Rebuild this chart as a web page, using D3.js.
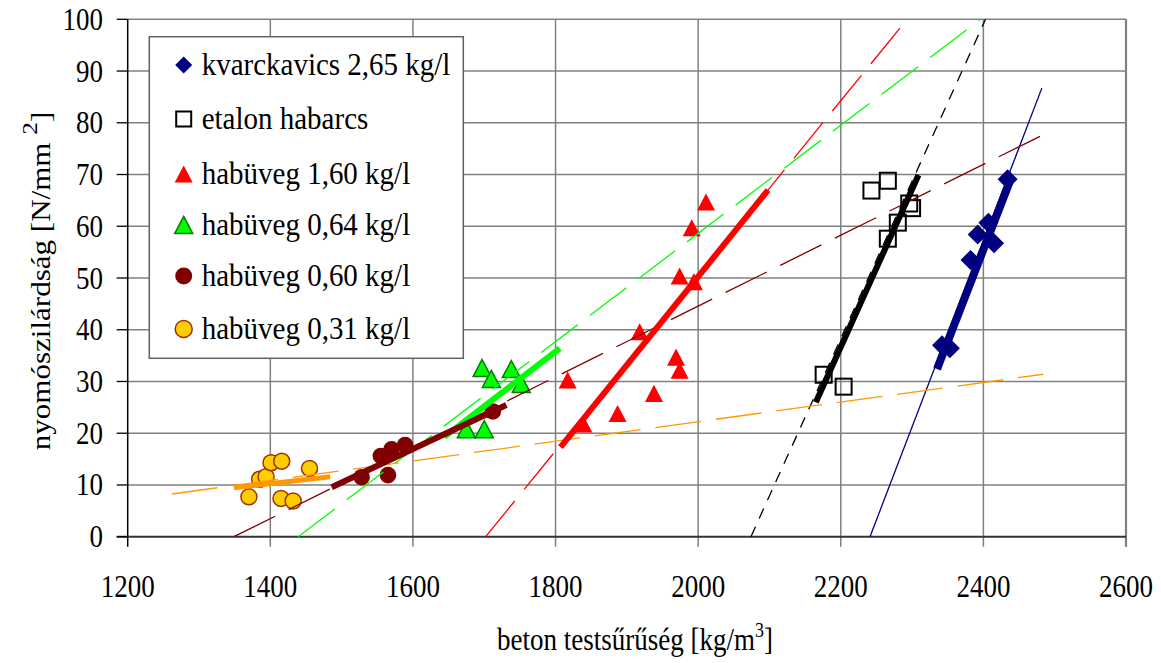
<!DOCTYPE html>
<meta charset="utf-8">
<head>
    <title>nyomószilárdság - beton testsűrűség</title>
    <script type="text/javascript" src="https://d3js.org/d3.v7.min.js"></script>
    <style>
        body { margin: 0; background: #fff; }
        text { font-family: "Liberation Serif", "Times New Roman", serif; fill: #000; }
    </style>
</head>
<body>
    <svg id="chart"></svg>
    <script>
        // axis ticks
        var xTicks = [1200, 1400, 1600, 1800, 2000, 2200, 2400, 2600];
        var yTicks = [0, 10, 20, 30, 40, 50, 60, 70, 80, 90, 100];

        // series names (legend order)
        var seriesNames = ["kvarckavics 2,65 kg/l", "etalon habarcs", "habüveg 1,60 kg/l",
            "habüveg 0,64 kg/l", "habüveg 0,60 kg/l", "habüveg 0,31 kg/l"];

        // measured points
        var kvarcX = [2434, 2407, 2392, 2415, 2382, 2342, 2353];
        var kvarcY = [69.1, 60.7, 58.4, 56.7, 53.5, 37.0, 36.4];
        var etalonX = [2176, 2204, 2243, 2266, 2266, 2280, 2296, 2300];
        var etalonY = [31.3, 29.0, 66.9, 68.8, 57.6, 60.7, 64.4, 63.5];
        var hab160X = [2011, 1991, 1974, 1994, 1918, 1969, 1974, 1817, 1938, 1887, 1839];
        var hab160Y = [64.7, 59.7, 50.4, 49.3, 39.6, 34.7, 32.2, 30.3, 27.7, 23.8, 21.8];
        var hab064X = [1697, 1710, 1738, 1752, 1675, 1700];
        var hab064Y = [32.6, 30.5, 32.4, 29.5, 20.8, 20.8];
        var hab060X = [1528, 1565, 1555, 1570, 1589, 1712];
        var hab060Y = [11.5, 11.9, 15.6, 16.9, 17.7, 24.2];
        var hab031X = [1370, 1385, 1394, 1401, 1416, 1415, 1432, 1455];
        var hab031Y = [7.7, 11.1, 11.6, 14.3, 14.6, 7.4, 6.9, 13.2];

        // trendlines over the data range [x1, y1, x2, y2]
        var trendKvarc = [2335, 32.4, 2440, 69.7];
        var trendEtalon = [2165, 26.0, 2309, 69.9];
        var trend160 = [1807, 17.3, 2098, 67.0];
        var trend064 = [1644, 19.3, 1806, 36.4];
        var trend060 = [1486, 9.55, 1731, 25.45];
        var trend031 = [1349, 9.47, 1484, 11.6];

        // extended trendlines [x1, y1, x2, y2]
        var extKvarc = [2241, 0, 2482, 86.7];
        var extEtalon = [2074, 0, 2403, 100];
        var ext160 = [1702, 0, 2293, 100];
        var ext064 = [1439, 0, 2396, 100];
        var ext060 = [1349, 0, 2481, 77.5];
        var ext031 = [1262, 8.25, 2484, 31.4];

        var w = 1161, h = 663;
        var svg = d3.select("#chart").attr("width", w).attr("height", h);

        var x = d3.scaleLinear().domain([1200, 2600]).range([127.7, 1126]);
        var y = d3.scaleLinear().domain([0, 100]).range([536.7, 19.3]);

        // styles per series
        var styles = [
            { shape: "diamond", fill: "#000080", stroke: "none", line: "#000080", thick: 8, dash: null },
            { shape: "square", fill: "none", stroke: "#000", line: "#000", thick: 6, dash: "11,9" },
            { shape: "triangle", fill: "#ff0000", stroke: "none", line: "#ff0000", thick: 6, dash: "46,15" },
            { shape: "triangle", fill: "#00ff00", stroke: "#008000", line: "#00ff00", thick: 6, dash: "46,15" },
            { shape: "circle", fill: "#800000", stroke: "none", line: "#800000", thick: 6, dash: "46,15" },
            { shape: "circle", fill: "#ffcc00", stroke: "#993300", line: "#ff9900", thick: 5, dash: "46,15" }
        ];
        var pointsX = [kvarcX, etalonX, hab160X, hab064X, hab060X, hab031X];
        var pointsY = [kvarcY, etalonY, hab160Y, hab064Y, hab060Y, hab031Y];
        var trends = [trendKvarc, trendEtalon, trend160, trend064, trend060, trend031];
        var exts = [extKvarc, extEtalon, ext160, ext064, ext060, ext031];

        function text(g, px, py, str, size, anchor, sy) {
            return g.append("text")
                .attr("transform", "translate(" + px + "," + py + ") scale(1," + sy + ")")
                .attr("text-anchor", anchor)
                .style("font-size", size + "px")
                .text(str);
        }

        function marker(g, shape, cx, cy, s, st) {
            var m;
            if (shape === "diamond") {
                m = g.append("path").attr("d", "M0," + (-s) + "L" + s + ",0L0," + s + "L" + (-s) + ",0Z");
            } else if (shape === "square") {
                m = g.append("rect").attr("x", -s).attr("y", -s).attr("width", 2 * s).attr("height", 2 * s)
                    .attr("stroke-width", 2);
            } else if (shape === "triangle") {
                m = g.append("path").attr("d", "M0," + (-s * 0.95) + "L" + s + "," + (s * 0.95) + "L" + (-s) + "," + (s * 0.95) + "Z")
                    .attr("stroke-width", 1.5);
            } else {
                m = g.append("circle").attr("r", s).attr("stroke-width", 1.5);
            }
            m.attr("transform", "translate(" + cx + "," + cy + ")")
                .attr("fill", st.fill)
                .attr("stroke", st.stroke);
            return m;
        }

        // grid
        var grid = svg.append("g").attr("id", "grid");
        grid.selectAll("line.h").data(yTicks.slice(1)).enter().append("line")
            .attr("x1", x(1200)).attr("x2", x(2600))
            .attr("y1", function (d) { return y(d); }).attr("y2", function (d) { return y(d); })
            .attr("stroke", "#808080").attr("stroke-width", 1.5);
        grid.selectAll("line.v").data(xTicks.slice(1)).enter().append("line")
            .attr("x1", function (d) { return x(d); }).attr("x2", function (d) { return x(d); })
            .attr("y1", y(100)).attr("y2", y(0) + 10)
            .attr("stroke", "#808080").attr("stroke-width", 1.5);
        // right border slightly heavier
        grid.append("line").attr("x1", x(2600)).attr("x2", x(2600)).attr("y1", y(100)).attr("y2", y(0) + 10)
            .attr("stroke", "#808080").attr("stroke-width", 2.2);

        // axes
        var axes = svg.append("g").attr("id", "axes");
        axes.append("line").attr("x1", x(1200)).attr("x2", x(1200)).attr("y1", y(100)).attr("y2", y(0) + 10)
            .attr("stroke", "#000").attr("stroke-width", 1.5);
        axes.append("line").attr("x1", x(1200) - 11).attr("x2", x(2600)).attr("y1", y(0)).attr("y2", y(0))
            .attr("stroke", "#333").attr("stroke-width", 2);
        axes.selectAll("line.yt").data(yTicks).enter().append("line")
            .attr("x1", x(1200) - 11).attr("x2", x(1200))
            .attr("y1", function (d) { return y(d); }).attr("y2", function (d) { return y(d); })
            .attr("stroke", "#000").attr("stroke-width", 1.3);

        yTicks.forEach(function (d) {
            text(axes, 103, y(d) + 10.5, String(d), 27, "end", 1.18);
        });
        xTicks.forEach(function (d) {
            text(axes, x(d), 597, String(d), 27, "middle", 1.18);
        });

        // axis titles
        var xt = axes.append("text")
            .attr("transform", "translate(635,650) scale(1,1.15)")
            .attr("text-anchor", "middle")
            .style("font-size", "27px");
        xt.append("tspan").text("beton testsűrűség [kg/m");
        xt.append("tspan").attr("dy", -11).style("font-size", "18px").text("3");
        xt.append("tspan").attr("dy", 11).text("]");

        var yt = axes.append("text")
            .attr("transform", "translate(50,281) rotate(-90) scale(1.15,1)")
            .attr("text-anchor", "middle")
            .style("font-size", "27px");
        yt.append("tspan").text("nyomószilárdság [N/mm ");
        yt.append("tspan").attr("dy", -13).style("font-size", "22px").text("2");
        yt.append("tspan").attr("dy", 13).text("]");

        // markers
        var marks = svg.append("g").attr("id", "markers");
        var sizes = [10, 8, 9, 9, 8.3, 8];
        styles.forEach(function (st, i) {
            pointsX[i].forEach(function (px, j) {
                marker(marks, st.shape, x(px), y(pointsY[i][j]), sizes[i], st);
            });
        });

        // trendlines
        var lines = svg.append("g").attr("id", "trendlines");
        styles.forEach(function (st, i) {
            var e = exts[i];
            lines.append("line")
                .attr("x1", x(e[0])).attr("y1", y(e[1])).attr("x2", x(e[2])).attr("y2", y(e[3]))
                .attr("stroke", st.line).attr("stroke-width", 1.3)
                .attr("stroke-dasharray", st.dash);
        });
        styles.forEach(function (st, i) {
            var t = trends[i];
            lines.append("line")
                .attr("x1", x(t[0])).attr("y1", y(t[1])).attr("x2", x(t[2])).attr("y2", y(t[3]))
                .attr("stroke", st.line).attr("stroke-width", st.thick);
        });

        // legend
        var legend = svg.append("g").attr("id", "legend");
        legend.append("rect").attr("x", 149.3).attr("y", 36.7).attr("width", 314).attr("height", 321.6)
            .attr("fill", "#fff").attr("stroke", "#606060").attr("stroke-width", 1.5);
        var legY = [65, 119, 174, 225, 276, 329];
        var legSizes = [8.5, 7.5, 9, 9, 8.5, 8.5];
        seriesNames.forEach(function (name, i) {
            marker(legend, styles[i].shape, 183.7, legY[i], legSizes[i], styles[i]);
            text(legend, 201.7, legY[i] + 10, name, 29, "start", 1.1);
        });
    </script>
</body>
